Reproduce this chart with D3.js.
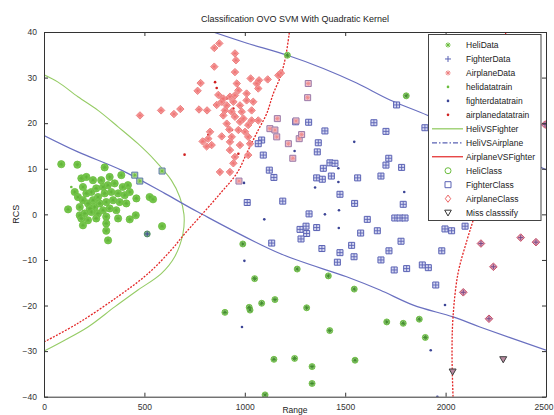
<!DOCTYPE html>
<html>
<head>
<meta charset="utf-8">
<script src="https://cdn.jsdelivr.net/npm/d3@7"></script>
<style>
  html, body { margin: 0; padding: 0; background: #fff; }
  svg { display: block; font-family: "Liberation Sans", Arial, sans-serif; }
</style>
</head>
<body>
<svg id="chart" width="554" height="415"></svg>
<script>
// ---- axis ticks ----
const xTicks = [0, 500, 1000, 1500, 2000, 2500];
const yTicks = [-40, -30, -20, -10, 0, 10, 20, 30, 40];

// ---- test points: helicopter, classified as helicopter ----
const heliClassHeli = [
  [86,11.0],[166,10.9],[302,10.3],[385,8.6],[186,7.9],[211,8.2],[244,7.5],[285,7.5],[327,8.2],
  [153,4.9],[169,3.8],[194,6.0],[211,4.6],[236,4.9],[260,5.7],[294,6.0],[318,6.4],[352,6.8],
  [392,6.0],[418,6.4],[194,3.1],[219,2.4],[244,3.1],[269,3.8],[302,4.6],[335,4.9],[369,4.6],
  [402,4.2],[427,4.9],[460,3.5],[526,3.8],[543,3.3],[120,1.1],[178,1.6],[228,1.3],[252,1.6],
  [277,2.4],[310,2.7],[344,3.1],[377,2.7],[410,2.4],[178,-0.2],[203,0.2],[236,0.5],[269,0.2],
  [294,0.9],[327,1.3],[360,0.9],[186,-0.9],[219,-1.3],[260,-0.9],[310,-0.5],[369,-0.9],
  [427,-1.1],[457,-0.2],[194,-2.4],[310,-2.0],[310,-3.6],[319,-5.7],[588,-2.6]
];
const heliScattered = [
  [990,-6.5],[1261,-12.0],[1416,-13.5],[1545,-16.4],[1049,-14.1],[901,-21.5],[1022,-20.4],
  [1026,-21.0],[1084,-19.5],[1150,-18.7],[1308,-20.5],[1423,-25.5],[1707,-23.6],[1789,-23.9],
  [1869,-23.0],[1899,-27.0],[1145,-31.8],[1248,-31.6],[1335,-33.4],[1549,-32.0],[1335,-37.1],
  [1101,-39.6],[1804,26.0],[1212,34.9]
];
// helicopter test points put in the fighter class
const heliClassFighter = [[452,8.6],[477,7.3],[588,9.5]];
// fighter test point put in the helicopter class
const fighterClassHeli = [[514,-4.3]];

// ---- test points: fighter, classified as fighter ----
const fighterClassFighter = [
  [1253,20.3],[1318,20.2],[1399,18.3],[1084,16.3],[1067,15.5],[1092,13.0],[1366,15.7],[1361,13.7],
  [1122,9.7],[1145,8.1],[1012,2.6],[1189,2.9],[1424,11.3],[1449,11.2],[1391,10.1],[1431,8.4],
  [1358,8.0],[1386,7.7],[1474,4.4],[1547,2.4],[1320,0.1],[1305,-2.6],[1275,-3.3],[1308,-4.2],
  [1280,-5.4],[1358,-2.9],[1134,-6.3],[1384,-7.5],[1474,-8.4],[1461,-10.5],[1532,-6.8],
  [1544,-9.3],[1577,-4.1],[1610,-1.1],[1660,-3.6],[1562,8.0],[1678,8.4],[1703,10.8],[1717,12.3],
  [1781,10.3],[1643,20.1],[1703,18.2],[1756,24.0],[1897,19.0],[1789,2.2],[1747,-0.8],[1773,-0.8],
  [1798,-0.8],[1778,-5.9],[1718,-8.0],[1678,-10.0],[1744,-12.2],[1806,-11.9],[1884,-11.1],
  [1914,-11.7],[1981,-8.0],[1951,-15.5],[1997,-3.2],[2030,-3.6],[2097,-2.6]
];
// fighter test points put in the airplane class
const fighterClassAirplane = [[2176,-6.4],[2374,-5.1],[2450,-6.1],[2238,-11.5],[2088,-17.1],[2216,-22.9],[2495,19.7]];

// ---- test points: airplane ----
const airplaneClassAirplane = [
  [478,21.7],[583,22.8],[647,22.0],[679,23.1],[772,23.0],[812,22.8],[765,27.1],[780,28.8],
  [848,32.4],[848,36.5],[873,37.5],[868,26.2],[860,24.0],[790,16.0],[810,14.9],[835,15.2],
  [951,35.3],[956,33.8],[951,31.2],[1029,29.8],[1071,29.4],[1114,29.6],[1167,30.5],[1180,31.0],
  [960,28.7],[968,27.2],[1009,26.5],[1059,28.7],[1067,27.6],[893,25.4],[926,25.8],[951,26.1],
  [1009,25.0],[1042,24.7],[885,24.7],[910,23.9],[943,24.7],[976,23.9],[901,22.8],[935,22.5],
  [985,22.5],[1034,22.8],[893,21.7],[951,21.4],[993,21.0],[1034,20.6],[910,19.9],[976,20.3],
  [1017,19.6],[1067,20.6],[923,18.6],[968,18.5],[1001,18.1],[885,17.1],[935,17.0],[1017,17.0],
  [827,18.1],[818,16.6],[926,15.9],[976,15.2],[926,14.1],[951,12.6],[1017,13.0],[943,11.2],
  [876,9.3],[926,9.3],[1026,15.5]
];
// airplane test points put in the fighter class
const airplaneClassFighter = [
  [1125,18.8],[1150,18.5],[1159,17.0],[1162,21.0],[1255,20.5],[1217,15.5],[1271,16.6],
  [1283,17.5],[1316,28.7],[1313,25.6],[1239,12.3],[971,7.3]
];

// ---- training points ----
const heliTrain = [[136,6.0]];
const fighterTrain = [
  [1545,15.9],[1248,13.9],[1466,10.1],[1466,7.1],[1350,5.9],[1469,0.9],[1399,0.0],[1468,-3.0],
  [1097,-1.1],[998,-10.2],[1794,4.9],[996,6.9],[986,-24.7],[1997,-19.9],[1926,-29.8],[1959,-40.0],
  [1192,3.1]
];
const airplaneTrain = [
  [852,29.0],[860,27.7],[910,25.4],[943,23.2],[918,15.9],[968,13.3],[700,13.1],[936,18.5],[818,17.4]
];

// ---- misclassified ----
const missClassified = [[2035,-34.5],[2287,-31.8]];

// ---- decision boundaries ----
const heliVsFighter = [
  [0,30.6],[70,29],[169,25.8],[269,22.8],[369,19.2],[468,15.5],[551,11.9],[634,7.5],[676,3.8],
  [697,0],[692,-4.2],[651,-9.3],[584,-13],[468,-16.6],[352,-20.3],[219,-24.7],[103,-27.6],[0,-30]
];
const heliVsAirplaneUpper = [
  [842,40],[1000,37.7],[1212,34.9],[1391,32],[1557,28.8],[1723,25.1],[1906,21.8],[2100,17.8],
  [2300,13.8],[2500,9.8]
];
const heliVsAirplaneLower = [
  [0,17.3],[169,13.7],[385,9.7],[601,4.6],[767,0.5],[1175,-8.6],[1507,-13.7],[1673,-16.6],
  [1839,-19.9],[2037,-22.5],[2171,-24.7],[2500,-29.8]
];
const airplaneVsFighterLeft = [
  [0,-28],[169,-23.9],[369,-18],[518,-13],[634,-7.8],[700,-4.3],[777,-0.5],[876,4.5],[960,9],
  [1017,14.1],[1067,18.5],[1109,22.1],[1142,26.5],[1180,30.5],[1205,35],[1222,40]
];
const airplaneVsFighterRight = [
  [2037,-40],[2032,-30.4],[2037,-22.5],[2062,-12.9],[2107,-5.6],[2137,-1.3],[2180,6],[2220,15],
  [2255,25],[2285,35],[2300,40]
];

const legendLabels = ["HeliData","FighterData","AirplaneData","helidatatrain","fighterdatatrain",
  "airplanedatatrain","HeliVSFighter","HeliVSAirplane","AirplaneVSFighter","HeliClass",
  "FighterClass","AirplaneClass","Miss classsify"];

// ---- colours ----
const GREEN = "#6bbd3e", BLUE = "#5a62b4", PINK = "#ee8080", RED = "#e32626";

const svg = d3.select("#chart");
const L = 44, R = 546, T = 32, B = 396.7;
const x = d3.scaleLinear().domain([0, 2500]).range([L, R]);
const y = d3.scaleLinear().domain([-40, 40]).range([B, T]);

// marker shapes centred at the origin
function shape(type, s) {
  switch (type) {
    case "star": {
      const d = s * 0.72;
      return `M${-s},0H${s}M0,${-s}V${s}M${-d},${-d}L${d},${d}M${-d},${d}L${d},${-d}`;
    }
    case "plus": return `M${-s},0H${s}M0,${-s}V${s}`;
    case "square": return `M${-s},${-s}H${s}V${s}H${-s}Z`;
    case "diamond": return `M0,${-s}L${s},0L0,${s}L${-s},0Z`;
    case "tri": return `M${-s},${-s * 0.75}H${s}L0,${s}Z`;
    case "circle": return d3.symbol(d3.symbolCircle, Math.PI * s * s)();
  }
}

svg.append("defs").append("clipPath").attr("id", "plotClip")
  .append("rect").attr("x", L).attr("y", T).attr("width", R - L).attr("height", B - T);

svg.append("rect").attr("x", L).attr("y", T).attr("width", R - L).attr("height", B - T).attr("fill", "#fff");

const plot = svg.append("g").attr("clip-path", "url(#plotClip)");

function layer(data, type, size, attrs) {
  const sel = plot.append("g").selectAll("path").data(data).join("path")
    .attr("transform", d => `translate(${x(d[0])},${y(d[1])})`)
    .attr("d", shape(type, size));
  Object.entries(attrs).forEach(([k, v]) => sel.attr(k, v));
  return sel;
}

const line = d3.line().x(d => x(d[0])).y(d => y(d[1])).curve(d3.curveCatmullRom);

// decision boundaries
plot.append("path").attr("d", line(heliVsFighter)).attr("fill", "none")
  .attr("stroke", "#96cc66").attr("stroke-width", 1.1);
[heliVsAirplaneUpper, heliVsAirplaneLower].forEach(seg =>
  plot.append("path").attr("d", line(seg)).attr("fill", "none")
    .attr("stroke", "#6a70c0").attr("stroke-width", 1.2));
[airplaneVsFighterLeft, airplaneVsFighterRight].forEach(seg =>
  plot.append("path").attr("d", line(seg)).attr("fill", "none")
    .attr("stroke", RED).attr("stroke-width", 1.3).attr("stroke-dasharray", "2,1.4"));

// training points
layer(heliTrain, "circle", 1.3, { fill: GREEN });
layer(fighterTrain, "circle", 1.3, { fill: "#3c4596" });
layer(airplaneTrain, "circle", 1.3, { fill: "#d02020" });

// airplane class
layer(airplaneClassAirplane, "diamond", 3.7, { fill: "#f3a0a0", stroke: PINK, "stroke-width": 1 });
layer(airplaneClassAirplane, "star", 2.2, { fill: "none", stroke: "#f07070", "stroke-width": 0.7 });
layer(fighterClassAirplane, "diamond", 3.8, { fill: "#dca0b4", stroke: "#c85068", "stroke-width": 1 });
layer(fighterClassAirplane, "plus", 2.5, { fill: "none", stroke: "#7a4a88", "stroke-width": 1 });

// fighter class
layer(fighterClassFighter, "square", 3, { fill: "#d7d9f2", stroke: BLUE, "stroke-width": 1 });
layer(fighterClassFighter, "plus", 3, { fill: "none", stroke: BLUE, "stroke-width": 0.9 });
layer(airplaneClassFighter, "square", 3, { fill: "#efc2cc", stroke: "#9a7aa8", "stroke-width": 1 });
layer(airplaneClassFighter, "star", 2.2, { fill: "none", stroke: "#f08a8a", "stroke-width": 0.8 });
layer(heliClassFighter, "square", 3, { fill: "#b8dca0", stroke: "#5a78a8", "stroke-width": 1 });
layer(heliClassFighter, "star", 2.2, { fill: "none", stroke: GREEN, "stroke-width": 0.8 });

// helicopter class
layer(heliClassHeli, "circle", 3.6, { fill: "#78c850", stroke: GREEN, "stroke-width": 0.8 });
layer(heliClassHeli, "star", 2.2, { fill: "none", stroke: "#62b438", "stroke-width": 0.8 });
layer(heliScattered, "circle", 3, { fill: "#9fd488", stroke: GREEN, "stroke-width": 0.9 });
layer(heliScattered, "star", 2.4, { fill: "none", stroke: "#3f8a2a", "stroke-width": 0.9 });
layer(fighterClassHeli, "circle", 3, { fill: "#7aa888", stroke: "#4a8a5a", "stroke-width": 0.9 });
layer(fighterClassHeli, "plus", 2.4, { fill: "none", stroke: "#3c4596", "stroke-width": 0.9 });

// misclassified
layer(missClassified, "tri", 3.5, { fill: "#b98aa0", stroke: "#404040", "stroke-width": 1 });

// ---- axes (ticks inside, box on four sides) ----
const axisColor = "#333";
const fmt = d3.format("d");
function styleAxis(g) {
  g.selectAll("path.domain").attr("stroke", axisColor).attr("stroke-width", 1);
  g.selectAll(".tick line").attr("stroke", axisColor);
  g.selectAll(".tick text").attr("fill", "#333").attr("font-size", "8.5px")
    .attr("font-family", "Liberation Sans, Arial, sans-serif");
}
const xAxisG = svg.append("g").attr("transform", `translate(0,${B})`)
  .call(d3.axisBottom(x).tickValues(xTicks).tickFormat(fmt).tickSize(-4).tickSizeOuter(0).tickPadding(7))
  .call(styleAxis);
// keep the last x label inside the canvas
xAxisG.selectAll(".tick text").filter(d => d === 2500).attr("text-anchor", "end").attr("dx", "7");
svg.append("g").attr("transform", `translate(0,${T})`)
  .call(d3.axisTop(x).tickValues(xTicks).tickSize(-4).tickSizeOuter(0).tickFormat(""))
  .call(styleAxis);
svg.append("g").attr("transform", `translate(${L},0)`)
  .call(d3.axisLeft(y).tickValues(yTicks).tickFormat(fmt).tickSize(-4).tickSizeOuter(0).tickPadding(7))
  .call(styleAxis);
svg.append("g").attr("transform", `translate(${R},0)`)
  .call(d3.axisRight(y).tickValues(yTicks).tickSize(-4).tickSizeOuter(0).tickFormat(""))
  .call(styleAxis);

// ---- titles ----
svg.append("text").attr("x", (L + R) / 2).attr("y", 22).attr("text-anchor", "middle")
  .attr("font-size", "9px").attr("fill", "#222")
  .text("Classification OVO SVM With Quadratic Kernel");
svg.append("text").attr("transform", `translate(19,${(T + B) / 2}) rotate(-90)`)
  .attr("text-anchor", "middle").attr("font-size", "9px").attr("fill", "#222").text("RCS");
svg.append("text").attr("x", (L + R) / 2).attr("y", 413).attr("text-anchor", "middle")
  .attr("font-size", "8.5px").attr("fill", "#222").text("Range");

// ---- legend ----
const lg = svg.append("g");
lg.append("rect").attr("x", 428.5).attr("y", 34.5).attr("width", 112.5).attr("height", 186)
  .attr("fill", "#fff").attr("stroke", "#444").attr("stroke-width", 1);
const rowY = i => 45 + i * 13.97;
const symX = 448;
const legendSpec = [
  { m: "star", s: 2.6, stroke: GREEN },
  { m: "plus", s: 3, stroke: BLUE },
  { m: "star", s: 2.6, stroke: PINK },
  { dot: GREEN },
  { dot: "#3c4596" },
  { dot: "#d02020" },
  { line: "#8cc85a", dash: null },
  { line: "#5a62b4", dash: "5,2,1.5,2" },
  { line: RED, dash: null },
  { m: "circle", s: 3, stroke: GREEN },
  { m: "square", s: 3, stroke: BLUE },
  { m: "diamond", s: 3.6, stroke: "#e85050", narrow: true },
  { m: "tri", s: 3.3, stroke: "#333" }
];
legendSpec.forEach((spec, i) => {
  const cy = rowY(i);
  if (spec.line) {
    lg.append("line").attr("x1", 432).attr("x2", 463).attr("y1", cy).attr("y2", cy)
      .attr("stroke", spec.line).attr("stroke-width", 1.2)
      .attr("stroke-dasharray", spec.dash);
  } else if (spec.dot) {
    lg.append("circle").attr("cx", symX).attr("cy", cy).attr("r", 1.3).attr("fill", spec.dot);
  } else {
    lg.append("path").attr("d", shape(spec.m, spec.s))
      .attr("transform", `translate(${symX},${cy})` + (spec.narrow ? " scale(0.75,1)" : ""))
      .attr("fill", "none").attr("stroke", spec.stroke).attr("stroke-width", 1);
  }
  lg.append("text").attr("x", 466).attr("y", cy).attr("dy", "0.35em")
    .attr("font-size", "8.5px").attr("fill", "#222").text(legendLabels[i]);
});
</script>
</body>
</html>
